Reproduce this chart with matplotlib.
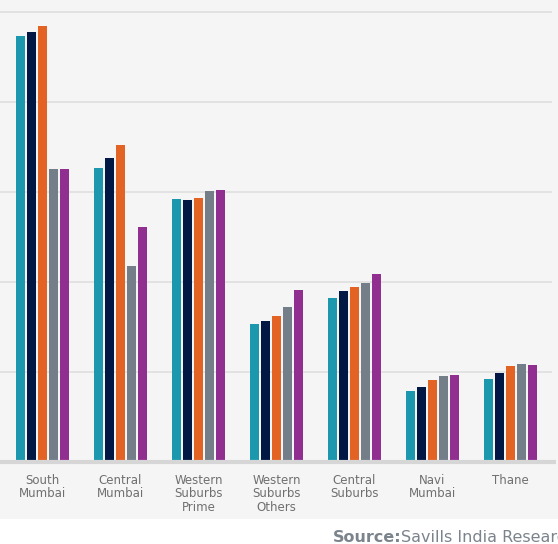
import matplotlib.pyplot as plt
import numpy as np
from matplotlib.patches import Rectangle

categories = ["South\nMumbai", "Central\nMumbai", "Western\nSuburbs\nPrime",
              "Western\nSuburbs\nOthers", "Central\nSuburbs", "Navi\nMumbai", "Thane"]

# five series per micro-market, left to right
series_1 = [473, 327, 292, 153, 182, 79, 92]
series_2 = [478, 338, 291, 157, 190, 83, 99]
series_3 = [484, 352, 293, 162, 194, 91, 107]
series_4 = [326, 218, 301, 172, 199, 96, 109]
series_5 = [326, 261, 302, 191, 209, 97, 108]

colors = ["#1b98ae", "#011844", "#e36325", "#737e89", "#912f91"]

W, H = 558, 544
fig = plt.figure(figsize=(W / 100, H / 100), dpi=100)
fig.patch.set_facecolor("white")

# light grey panel behind the chart and its labels
fig.patches.append(Rectangle((0, (H - 519) / H), 1, 519 / H, transform=fig.transFigure,
                             facecolor="#f4f5f4", edgecolor="none", zorder=-10))

ax = fig.add_axes([0, (H - 462) / H, 1, 462 / H])
ax.set_zorder(1)
ax.set_facecolor("none")
for s in ax.spines.values():
    s.set_visible(False)

x = np.arange(len(categories))
step = 11 / 78
width = 9 / 78
all_series = [series_1, series_2, series_3, series_4, series_5]
for i, (vals, c) in enumerate(zip(all_series, colors)):
    ax.bar(x + (i - 2) * step, vals, width=width, color=c, zorder=3)

x0 = -42.5 / 78
ax.set_xlim(x0, x0 + W / 78)
ax.set_ylim(0, 462 / 0.9)

ax.hlines([100, 200, 300, 400, 500], x0, 6.53, color="#e0e0e0", lw=1.3, zorder=1)
ax.hlines(0, x0, 6.58, color="#d6d6d6", lw=3, zorder=4, clip_on=False)

ax.set_xticks([])
ax.set_yticks([])

for xi, lab in zip(x, categories):
    ax.text(xi, -13, lab, ha="center", va="top", fontsize=8.5, color="#6f6f6f",
            linespacing=1.05, clip_on=False)

fig.text(333 / W, 1 - 542 / H, "Source:", fontsize=11.5, fontweight="bold",
         color="#7b838c", ha="left", va="baseline")
fig.text(401 / W, 1 - 542 / H, "Savills India Research", fontsize=11.5,
         color="#7b838c", ha="left", va="baseline")

fig.savefig("out.png", dpi=100, facecolor=fig.get_facecolor())
